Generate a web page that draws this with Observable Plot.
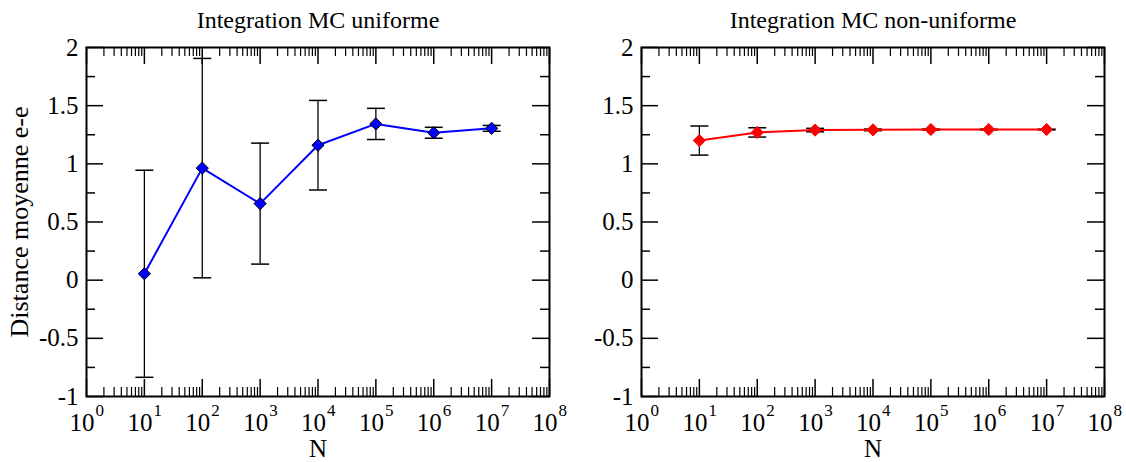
<!DOCTYPE html>
<html><head><meta charset="utf-8">
<script src="https://cdn.jsdelivr.net/npm/d3@7"></script>
<script src="https://cdn.jsdelivr.net/npm/@observablehq/plot@0.6"></script>
<style>
body{margin:0;background:#fff;}
#wrap{display:flex;width:1126px;height:462px;}
</style></head><body><div id="wrap"></div>
<script>
const N = [1e1, 1e2, 1e3, 1e4, 1e5, 1e6, 1e7];
const uniMean = [0.055, 0.963, 0.658, 1.16, 1.343, 1.267, 1.305];
const uniErr  = [0.89, 0.943, 0.52, 0.385, 0.134, 0.047, 0.025];
const nonMean = [1.2, 1.27, 1.29, 1.292, 1.295, 1.295, 1.295];
const nonErr  = [0.125, 0.04, 0.015, 0.007, 0.004, 0.003, 0.003];
const decades = [1, 1e1, 1e2, 1e3, 1e4, 1e5, 1e6, 1e7, 1e8];
const exponents = ["0","1","2","3","4","5","6","7","8"];
const yTicks = [-1, -0.5, 0, 0.5, 1, 1.5, 2];
const yMinor = [-0.75, -0.25, 0.25, 0.75, 1.25, 1.75];
const titles = ["Integration MC uniforme", "Integration MC non-uniforme"];
const yLabel = "Distance moyenne e-e";
const xLabel = "N";

const minorX = [];
for (let k = 0; k < 8; k++) for (let d = 2; d <= 9; d++) minorX.push(d * Math.pow(10, k));

const capSymbol = { draw(ctx) { ctx.moveTo(-9, 0); ctx.lineTo(9, 0); } };

function panel(title, mean, err, color, markerStroke, showY, ml, mr) {
  const W = 563, H = 462, mt = 47, mb = 66;
  const fw = W - ml - mr, fh = H - mt - mb;
  const data = N.map((n, i) => ({n, m: mean[i], lo: mean[i] - err[i], hi: mean[i] + err[i]}));
  const marks = [
    Plot.frame({stroke: "black", strokeWidth: 2}),
    Plot.tickX(decades, {x: d => d, insetTop: fh - 17, stroke: "black", strokeWidth: 1.5}),
    Plot.tickX(decades, {x: d => d, insetBottom: fh - 17, stroke: "black", strokeWidth: 1.5}),
    Plot.tickX(minorX, {x: d => d, insetTop: fh - 9, stroke: "black", strokeWidth: 1.2}),
    Plot.tickX(minorX, {x: d => d, insetBottom: fh - 9, stroke: "black", strokeWidth: 1.2}),
    Plot.tickY(yTicks, {y: d => d, insetRight: fw - 17, stroke: "black", strokeWidth: 1.5}),
    Plot.tickY(yTicks, {y: d => d, insetLeft: fw - 17, stroke: "black", strokeWidth: 1.5}),
    Plot.tickY(yMinor, {y: d => d, insetRight: fw - 9, stroke: "black", strokeWidth: 1.5}),
    Plot.tickY(yMinor, {y: d => d, insetLeft: fw - 9, stroke: "black", strokeWidth: 1.5}),
    Plot.axisY(yTicks, {tickSize: 0, tickPadding: 8, tickFormat: d => String(d), label: null, fontSize: 25}),
    Plot.text(decades, {x: d => d, frameAnchor: "bottom", text: () => "10", textAnchor: "end", dx: 8, dy: 26, lineAnchor: "middle", fontSize: 25}),
    Plot.text(decades, {x: d => d, frameAnchor: "bottom", text: (d, i) => exponents[i], textAnchor: "start", dx: 9, dy: 14, lineAnchor: "middle", fontSize: 17}),
    Plot.text([xLabel], {frameAnchor: "bottom", dy: 52, lineAnchor: "middle", fontSize: 25}),
    Plot.text([title], {frameAnchor: "top", dy: -27, lineAnchor: "middle", fontSize: 24}),
    Plot.ruleX(data, {x: "n", y1: "lo", y2: "hi", stroke: "black", strokeWidth: 1.3}),
    Plot.dot(data, {x: "n", y: "lo", symbol: capSymbol, stroke: "black", strokeWidth: 1.5, r: 4}),
    Plot.dot(data, {x: "n", y: "hi", symbol: capSymbol, stroke: "black", strokeWidth: 1.5, r: 4}),
    Plot.line(data, {x: "n", y: "m", stroke: color, strokeWidth: 2}),
    Plot.dot(data, {x: "n", y: "m", symbol: "diamond2", fill: color, stroke: markerStroke, strokeWidth: 1, r: 5.5})
  ];
  if (showY) marks.push(Plot.text([yLabel], {frameAnchor: "left", dx: -67, rotate: -90, textAnchor: "middle", lineAnchor: "middle", fontSize: 26}));
  return Plot.plot({
    width: W, height: H, marginTop: mt, marginBottom: mb, marginLeft: ml, marginRight: mr,
    x: {type: "log", domain: [1, 1e8], axis: null},
    y: {domain: [-1, 2], axis: null},
    style: {fontFamily: "'Liberation Serif', 'Times New Roman', serif", fontSize: "25px", background: "transparent", color: "black", overflow: "visible"},
    marks
  });
}

const wrap = document.getElementById("wrap");
wrap.appendChild(panel(titles[0], uniMean, uniErr, "#0000ff", "black", true, 86, 14));
wrap.appendChild(panel(titles[1], nonMean, nonErr, "#ff0000", "#ff0000", false, 78, 22));
</script></body></html>
